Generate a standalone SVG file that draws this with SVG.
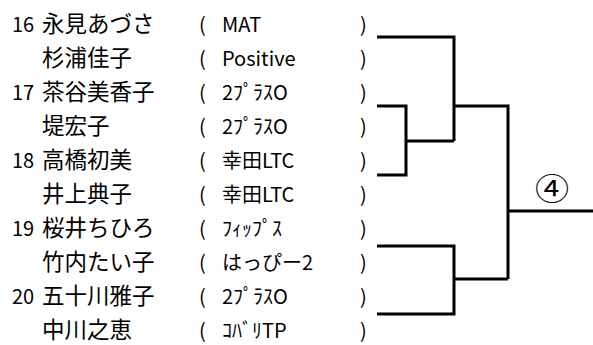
<svg xmlns="http://www.w3.org/2000/svg" width="593" height="345" viewBox="0 0 593 345">
<style>
text{font-family:"Noto Sans CJK JP","Liberation Sans",sans-serif;font-size:20px;fill:#000}
.n{font-size:22.5px}
.c{font-size:31px}
.ln{fill:none;stroke:#000;stroke-width:3}
</style>
<rect width="593" height="345" fill="#fff"/>
<g id="p1"><text x="12" y="32">16</text><text class="n" x="42" y="32">永見あづさ</text><text x="199" y="32">(</text><text x="222" y="32">MAT</text><text x="360" y="32">)</text></g>
<g id="p2"><text class="n" x="42" y="66">杉浦佳子</text><text x="199" y="66">(</text><text x="222" y="66">Positive</text><text x="360" y="66">)</text></g>
<g id="p3"><text x="12" y="100">17</text><text class="n" x="42" y="100">茶谷美香子</text><text x="199" y="100">(</text><text x="222" y="100">2ﾌﾟﾗｽO</text><text x="360" y="100">)</text></g>
<g id="p4"><text class="n" x="42" y="134">堤宏子</text><text x="199" y="134">(</text><text x="222" y="134">2ﾌﾟﾗｽO</text><text x="360" y="134">)</text></g>
<g id="p5"><text x="12" y="168">18</text><text class="n" x="42" y="168">高橋初美</text><text x="199" y="168">(</text><text x="222" y="168">幸田LTC</text><text x="360" y="168">)</text></g>
<g id="p6"><text class="n" x="42" y="202">井上典子</text><text x="199" y="202">(</text><text x="222" y="202">幸田LTC</text><text x="360" y="202">)</text></g>
<g id="p7"><text x="12" y="236">19</text><text class="n" x="42" y="236">桜井ちひろ</text><text x="199" y="236">(</text><text x="222" y="236">ﾌｨｯﾌﾟｽ</text><text x="360" y="236">)</text></g>
<g id="p8"><text class="n" x="42" y="270">竹内たい子</text><text x="199" y="270">(</text><text x="222" y="270">はっぴー2</text><text x="360" y="270">)</text></g>
<g id="p9"><text x="12" y="304">20</text><text class="n" x="42" y="304">五十川雅子</text><text x="199" y="304">(</text><text x="222" y="304">2ﾌﾟﾗｽO</text><text x="360" y="304">)</text></g>
<g id="p10"><text class="n" x="42" y="338">中川之恵</text><text x="199" y="338">(</text><text x="222" y="338">ｺﾊﾞﾘTP</text><text x="360" y="338">)</text></g>
<g id="connectors">
<path class="ln" d="M377 37H454V141M377 106H406V175H377M406 141H454M454 106H508V279M377 246H454V314H377M454 279H508M508 211H593"/>
</g>
<g id="label"><text class="c" transform="translate(552,200) scale(1.1,1)" text-anchor="middle">④</text></g>
</svg>
